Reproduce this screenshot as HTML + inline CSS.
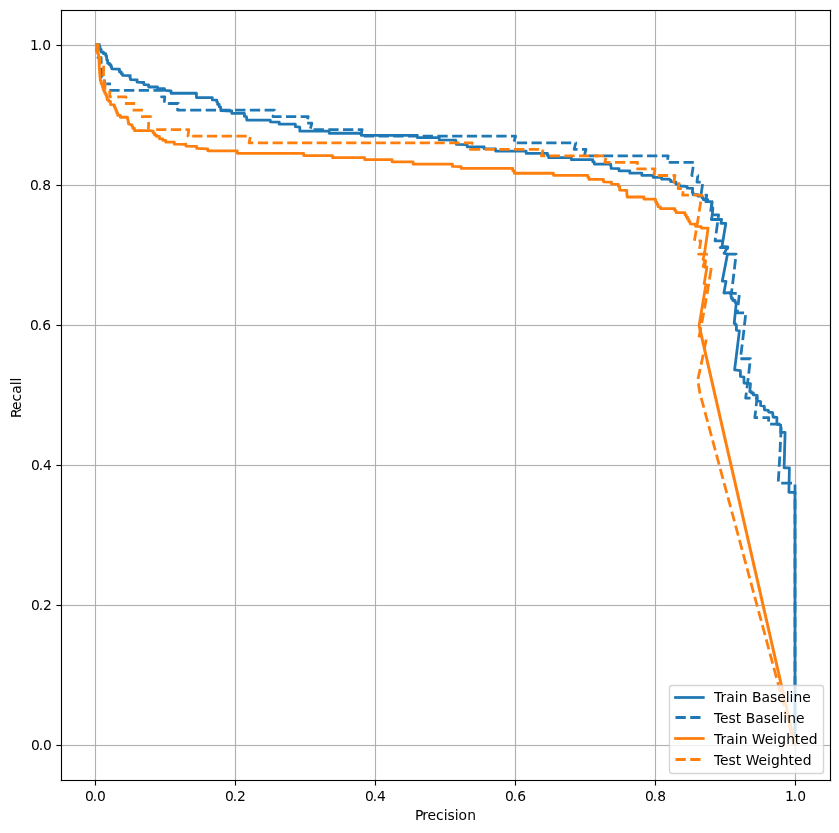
<!DOCTYPE html>
<html><head><meta charset="utf-8"><title>Precision-Recall</title>
<style>html,body{margin:0;padding:0;background:#fff}svg{display:block}text{font-family:"DejaVu Sans","Liberation Sans",sans-serif;font-size:13.8889px;fill:#000}</style></head>
<body>
<svg width="839" height="833" viewBox="0 0 839 833">
<rect width="839" height="833" fill="#fff"/>
<g fill="#b0b0b0" fill-opacity="0.06" shape-rendering="crispEdges"><rect x="94" y="10" width="3" height="770"/><rect x="61" y="744" width="769" height="3"/><rect x="234" y="10" width="3" height="770"/><rect x="61" y="604" width="769" height="3"/><rect x="374" y="10" width="3" height="770"/><rect x="61" y="464" width="769" height="3"/><rect x="514" y="10" width="3" height="770"/><rect x="61" y="324" width="769" height="3"/><rect x="654" y="10" width="3" height="770"/><rect x="61" y="184" width="769" height="3"/><rect x="794" y="10" width="3" height="770"/><rect x="61" y="44" width="769" height="3"/></g>
<g fill="#b0b0b0" shape-rendering="crispEdges"><rect x="95" y="10" width="1" height="770"/><rect x="61" y="745" width="769" height="1"/><rect x="235" y="10" width="1" height="770"/><rect x="61" y="605" width="769" height="1"/><rect x="375" y="10" width="1" height="770"/><rect x="61" y="465" width="769" height="1"/><rect x="515" y="10" width="1" height="770"/><rect x="61" y="325" width="769" height="1"/><rect x="655" y="10" width="1" height="770"/><rect x="61" y="185" width="769" height="1"/><rect x="795" y="10" width="1" height="770"/><rect x="61" y="45" width="769" height="1"/></g>
<clipPath id="ax"><rect x="61.5" y="10.5" width="769.0" height="770"/></clipPath>
<g clip-path="url(#ax)" fill="none" stroke-width="2.7778" stroke-linejoin="round">
<path d="M95.50 45.00 L99.12 44.60 L99.44 44.60 L99.44 47.00 L100.06 47.00 L100.06 49.41 L100.37 49.41 L101.19 49.41 L101.19 52.09 L102.00 52.09 L103.45 52.09 L103.45 53.73 L104.89 53.73 L105.70 53.73 L105.70 55.65 L106.52 55.65 L106.81 60.16 L107.62 60.16 L107.62 63.33 L108.44 63.33 L109.54 63.33 L109.54 64.96 L110.65 64.96 L111.01 64.96 L111.01 66.88 L111.73 66.88 L111.73 68.81 L112.09 68.81 L118.33 69.09 L119.44 69.09 L119.44 71.97 L120.54 71.97 L121.19 71.97 L121.19 73.66 L122.48 73.66 L122.48 75.34 L123.13 75.34 L130.34 75.53 L129.69 75.96 L129.93 75.96 L129.93 77.79 L130.41 77.79 L130.41 79.61 L130.65 79.61 L136.41 79.80 L137.13 79.80 L137.13 82.20 L137.85 82.20 L143.13 82.49 L143.85 82.49 L143.85 84.60 L144.57 84.60 L147.94 84.89 L148.66 84.89 L148.66 87.00 L149.38 87.00 L157.06 87.00 L157.54 87.00 L157.54 88.45 L158.02 88.45 L163.78 88.64 L164.50 88.64 L164.50 90.37 L165.22 90.37 L170.50 90.85 L170.98 90.85 L170.98 93.25 L171.46 93.25 L190.00 93.25 L196.40 93.25 L196.40 97.57 L211.41 97.57 L212.31 97.57 L212.31 99.97 L213.21 99.97 L216.45 100.21 L216.84 100.21 L216.84 102.31 L217.62 102.31 L217.62 104.41 L218.01 104.41 L219.21 104.41 L219.21 106.81 L220.41 106.81 L220.56 106.81 L220.56 108.73 L220.86 108.73 L220.86 110.65 L221.01 110.65 L231.22 111.01 L231.82 111.01 L231.82 113.42 L232.42 113.42 L243.82 113.42 L244.42 113.42 L244.42 116.42 L245.02 116.42 L246.46 116.66 L246.82 120.02 L270.23 120.02 L270.47 121.82 L278.64 122.06 L279.24 122.06 L279.24 124.22 L279.84 124.22 L285.00 124.22 L295.01 124.02 L295.31 124.02 L295.31 126.66 L295.61 126.66 L299.81 127.02 L299.81 131.22 L328.62 131.22 L329.22 131.22 L329.22 133.26 L329.82 133.26 L359.83 133.26 L361.33 133.26 L361.33 135.42 L362.83 135.42 L380.00 135.42 L417.02 135.42 L417.32 135.42 L417.32 137.58 L417.62 137.58 L438.63 137.58 L439.23 137.58 L439.23 139.98 L439.83 139.98 L455.43 140.22 L455.73 140.22 L455.73 142.32 L456.33 142.32 L456.33 144.42 L456.63 144.42 L466.24 144.66 L467.14 144.66 L467.14 146.82 L468.04 146.82 L475.00 146.82 L483.81 146.82 L484.11 146.82 L484.11 148.63 L484.41 148.63 L495.21 148.87 L495.51 148.87 L495.51 151.03 L495.81 151.03 L525.82 151.03 L526.12 151.03 L526.12 153.43 L526.42 153.43 L546.83 153.43 L547.43 153.43 L547.43 155.53 L548.63 155.53 L548.63 157.63 L549.23 157.63 L570.00 157.63 L571.00 157.86 L571.30 157.86 L571.30 159.66 L571.60 159.66 L592.01 159.66 L592.76 159.66 L592.76 161.82 L594.26 161.82 L594.26 163.99 L595.01 163.99 L610.62 164.23 L610.77 164.23 L610.77 166.33 L611.07 166.33 L611.07 168.43 L611.22 168.43 L618.42 168.67 L619.02 168.67 L619.02 170.83 L619.62 170.83 L629.23 170.83 L629.83 170.83 L629.83 173.23 L630.43 173.23 L641.23 173.23 L641.83 173.23 L641.83 175.39 L642.43 175.39 L652.64 175.39 L653.24 175.39 L653.24 177.43 L653.84 177.43 L661.04 177.43 L661.62 177.43 L661.62 179.22 L662.20 179.22 L669.41 179.22 L670.00 180.25 L670.72 180.25 L670.72 181.69 L671.44 181.69 L675.40 182.05 L675.94 182.05 L675.94 184.21 L676.48 184.21 L679.36 185.29 L680.80 186.01 L686.57 186.37 L687.11 186.37 L687.11 188.18 L687.65 188.18 L692.69 188.32 L692.33 192.50 L693.05 192.50 L693.05 194.66 L693.77 194.66 L697.73 194.66 L697.73 196.10 L701.69 196.10 L702.23 196.10 L702.23 197.90 L703.31 197.90 L703.31 199.70 L703.85 199.70 L707.45 199.70 L707.82 199.70 L707.82 201.50 L708.18 201.50 L712.00 201.80 L711.70 207.80 L712.90 207.80 L712.30 214.40 L711.40 219.50 L721.60 219.50 L721.00 223.40 L725.80 223.40 L722.00 246.40 L727.80 247.00 L724.00 253.40 L727.50 254.00 L722.30 281.10 L726.00 281.40 L723.90 293.00 L730.40 292.60 L730.60 292.60 L730.60 294.53 L731.00 294.53 L731.00 296.47 L731.40 296.47 L731.40 298.40 L731.60 298.40 L732.77 298.40 L732.77 300.50 L735.12 300.50 L735.12 302.60 L736.30 302.60 L734.20 323.40 L735.30 323.40 L735.30 324.80 L736.40 324.80 L736.40 330.20 L739.40 330.80 L734.60 369.80 L740.40 370.70 L740.40 376.50 L744.00 377.20 L744.00 383.00 L750.50 383.70 L749.80 391.60 L751.35 391.60 L751.35 393.00 L752.90 393.00 L753.35 393.00 L753.35 394.90 L753.80 394.90 L757.20 395.40 L757.20 400.70 L760.60 401.60 L760.60 405.50 L764.40 406.40 L764.40 409.80 L768.30 410.30 L768.70 412.20 L772.60 412.70 L773.10 417.00 L776.90 417.50 L776.90 424.20 L780.70 425.10 L780.70 432.40 L785.10 432.40 L784.10 467.80 L789.40 467.80 L788.90 492.30 L795.00 492.30 L795.00 745.00" stroke="#1f77b4"/>
<path d="M95.50 45.00 L97.00 44.60 L96.99 51.15 L98.00 51.15 L97.98 57.69 L101.20 57.69 L101.15 64.23 L101.60 64.23 L101.54 70.78 L102.00 70.78 L101.94 77.33 L104.50 77.33 L104.41 83.87 L106.40 83.87" stroke="#1f77b4" stroke-dasharray="10.28 4.44" stroke-dashoffset="0.00"/>
<path d="M106.40 83.87 L111.00 83.87 L111.00 83.87" stroke="#1f77b4" stroke-dasharray="10.28 4.44" stroke-dashoffset="0.00"/>
<path d="M109.30 90.41 L162.80 90.41 L161.60 96.96 L164.80 96.96 L164.17 103.50 L168.10 103.50" stroke="#1f77b4" stroke-dasharray="10.28 4.44" stroke-dashoffset="0.00"/>
<path d="M168.10 103.50 L178.30 103.50 L177.55 110.05 L191.00 110.05" stroke="#1f77b4" stroke-dasharray="10.28 4.44" stroke-dashoffset="0.00"/>
<path d="M191.00 110.05 L274.40 110.05 L273.02 116.59 L308.20 116.59 L306.65 123.14 L311.80 123.14 L310.22 129.69 L313.60 129.69" stroke="#1f77b4" stroke-dasharray="10.28 4.44" stroke-dashoffset="0.00"/>
<path d="M313.60 129.69 L362.20 129.69 L360.44 136.23 L363.80 136.23" stroke="#1f77b4" stroke-dasharray="10.28 4.44" stroke-dashoffset="0.00"/>
<path d="M363.80 136.23 L515.60 136.23 L513.78 142.78 L516.80 142.78" stroke="#1f77b4" stroke-dasharray="10.28 4.44" stroke-dashoffset="0.00"/>
<path d="M516.80 142.78 L575.80 142.78 L574.15 149.32 L586.00 149.32 L584.37 155.87 L602.90 155.87" stroke="#1f77b4" stroke-dasharray="10.28 4.44" stroke-dashoffset="0.00"/>
<path d="M602.90 155.87 L668.20 155.87 L667.03 162.41 L668.80 162.41" stroke="#1f77b4" stroke-dasharray="10.28 4.44" stroke-dashoffset="0.00"/>
<path d="M668.80 162.41 L693.80 162.41 L693.13 166.86" stroke="#1f77b4" stroke-dasharray="10.28 4.44" stroke-dashoffset="0.00"/>
<path d="M693.13 166.86 L692.81 168.96 L691.81 175.50 L697.90 175.50 L697.88 175.61" stroke="#1f77b4" stroke-dasharray="10.28 4.44" stroke-dashoffset="0.00"/>
<path d="M697.88 175.61 L696.92 182.04 L702.90 182.04 L702.59 184.17" stroke="#1f77b4" stroke-dasharray="10.28 4.44" stroke-dashoffset="0.00"/>
<path d="M702.59 184.17 L701.96 188.59 L700.99 195.13 L706.70 195.13 L705.77 201.68 L712.00 201.68 L711.10 208.22 L710.19 214.77 L718.60 214.77 L717.75 221.31 L717.49 223.19" stroke="#1f77b4" stroke-dasharray="10.28 4.44" stroke-dashoffset="0.00"/>
<path d="M717.49 223.19 L716.87 227.86 L715.98 234.41 L715.49 237.91" stroke="#1f77b4" stroke-dasharray="10.28 4.44" stroke-dashoffset="0.00"/>
<path d="M715.49 237.91 L715.06 240.95 L721.00 240.95 L720.13 247.50 L727.50 247.50 L726.68 254.04 L736.10 254.04 L735.53 259.16" stroke="#1f77b4" stroke-dasharray="10.28 4.44" stroke-dashoffset="0.00"/>
<path d="M735.53 259.16 L735.37 260.58 L734.61 267.13 L733.84 273.68 L733.05 280.22 L732.24 286.76 L731.41 293.31 L739.50 293.31 L738.74 299.86 L737.97 306.40 L737.17 312.94 L745.80 312.94 L745.55 315.22" stroke="#1f77b4" stroke-dasharray="10.28 4.44" stroke-dashoffset="0.00"/>
<path d="M745.55 315.22 L745.09 319.49 L744.36 326.04 L743.61 332.58 L742.83 339.12 L742.04 345.67 L741.22 352.22 L740.37 358.76" stroke="#1f77b4" stroke-dasharray="10.28 4.44" stroke-dashoffset="0.00"/>
<path d="M740.37 358.76 L740.37 358.76 L750.40 358.76 L749.67 365.31 L748.92 371.85 L748.15 378.40 L747.35 384.94 L746.52 391.49 L745.66 398.03 L757.00 398.03 L756.30 404.58 L755.58 411.12 L754.82 417.67 L768.80 417.67 L768.28 424.21 L781.30 424.21 L781.17 427.12" stroke="#1f77b4" stroke-dasharray="10.28 4.44" stroke-dashoffset="0.00"/>
<path d="M781.17 427.12 L781.01 430.75 L780.71 437.30 L780.39 443.85 L780.07 450.39 L779.72 456.94 L779.36 463.48 L778.99 470.03 L778.60 476.57 L778.18 483.12 L781.70 483.12" stroke="#1f77b4" stroke-dasharray="10.28 4.44" stroke-dashoffset="0.00"/>
<path d="M781.70 483.12 L795.00 483.12 L795.00 745.00" stroke="#1f77b4" stroke-dasharray="10.28 4.44" stroke-dashoffset="0.00"/>
<path d="M95.30 45.00 L96.50 45.00 L96.70 51.30 L97.55 51.30 L97.55 53.50 L98.40 53.50 L98.90 59.00 L99.20 66.70 L99.29 66.70 L99.29 68.85 L99.46 68.85 L99.46 71.00 L99.64 71.00 L99.64 73.15 L99.81 73.15 L99.81 75.30 L99.90 75.30 L100.30 80.60 L101.05 80.60 L101.05 83.50 L101.80 83.50 L102.05 83.50 L102.05 85.40 L102.55 85.40 L102.55 87.30 L103.05 87.30 L103.05 89.20 L103.30 89.20 L103.83 89.20 L103.83 91.30 L104.90 91.30 L104.90 93.40 L105.97 93.40 L105.97 95.50 L106.50 95.50 L106.75 95.50 L106.75 97.65 L107.25 97.65 L107.25 99.80 L107.50 99.80 L108.65 99.80 L108.65 101.30 L109.80 101.30 L110.50 101.30 L110.50 104.60 L111.20 104.60 L113.84 104.77 L114.24 104.77 L114.24 106.69 L115.04 106.69 L115.04 108.61 L115.84 108.61 L115.84 110.53 L116.24 110.53 L116.72 110.53 L116.72 112.94 L117.68 112.94 L117.68 115.34 L118.16 115.34 L120.32 115.34 L120.32 117.26 L122.48 117.26 L127.29 117.26 L127.53 117.26 L127.53 119.50 L128.01 119.50 L128.01 121.74 L128.49 121.74 L128.49 123.98 L128.73 123.98 L131.61 124.94 L131.97 124.94 L131.97 126.62 L132.69 126.62 L132.69 128.30 L133.05 128.30 L134.49 128.30 L134.49 130.70 L135.93 130.70 L150.34 130.70 L152.74 131.18 L153.34 131.18 L153.34 133.10 L154.54 133.10 L154.54 135.02 L155.14 135.02 L156.58 135.02 L156.58 136.46 L158.02 136.46 L159.46 136.46 L159.46 138.87 L160.90 138.87 L162.82 138.87 L162.82 140.31 L164.74 140.31 L165.70 140.31 L165.70 142.23 L166.66 142.23 L173.39 142.23 L174.35 142.23 L174.35 144.15 L175.31 144.15 L184.91 144.34 L185.00 144.03 L185.90 144.03 L185.90 146.07 L186.80 146.07 L196.40 146.43 L196.70 146.43 L196.70 148.47 L197.00 148.47 L207.21 148.83 L207.81 148.83 L207.81 150.87 L208.41 150.87 L236.62 150.87 L237.22 150.87 L237.22 153.27 L237.82 153.27 L285.00 153.27 L303.41 153.43 L303.71 153.43 L303.71 155.59 L304.01 155.59 L332.22 155.59 L332.52 155.59 L332.52 157.63 L332.82 157.63 L364.03 157.63 L364.63 157.63 L364.63 159.67 L365.23 159.67 L380.00 159.67 L391.81 159.67 L392.11 159.67 L392.11 161.83 L392.41 161.83 L412.82 161.83 L413.12 161.83 L413.12 164.23 L413.42 164.23 L451.83 164.23 L452.43 164.23 L452.43 166.39 L453.03 166.39 L460.83 166.63 L461.13 166.63 L461.13 168.43 L461.43 168.43 L475.00 168.43 L512.02 168.43 L512.77 168.43 L512.77 170.83 L514.27 170.83 L514.27 173.24 L515.02 173.24 L552.83 173.24 L553.43 173.24 L553.43 175.28 L554.03 175.28 L570.00 175.28 L587.21 175.39 L587.81 175.39 L587.81 177.43 L589.01 177.43 L589.01 179.47 L589.61 179.47 L602.82 179.47 L603.42 179.47 L603.42 181.87 L604.02 181.87 L610.62 182.11 L611.52 182.11 L611.52 184.03 L612.42 184.03 L617.22 184.27 L618.42 184.27 L618.42 186.43 L619.62 186.43 L619.62 190.04 L626.82 190.28 L626.82 194.84 L627.12 194.84 L627.12 197.00 L627.42 197.00 L643.03 197.00 L643.93 197.00 L643.93 199.04 L644.83 199.04 L655.04 199.04 L655.00 199.50 L655.60 199.50 L655.60 201.93 L656.80 201.93 L656.80 204.37 L658.00 204.37 L658.00 206.80 L658.60 206.80 L660.40 206.80 L660.40 208.60 L662.20 208.60 L674.20 208.60 L674.80 208.60 L674.80 210.60 L676.00 210.60 L676.00 212.60 L676.60 212.60 L684.30 212.60 L684.95 212.60 L684.95 214.84 L686.25 214.84 L686.25 217.08 L687.55 217.08 L687.55 219.32 L688.85 219.32 L688.85 221.56 L690.15 221.56 L690.15 223.80 L690.80 223.80 L694.40 224.10 L695.50 224.10 L695.50 226.30 L696.60 226.30 L700.90 226.70 L701.25 226.70 L701.25 228.10 L701.60 228.10 L708.10 228.10 L705.00 250.00 L703.10 259.60 L705.00 260.60 L703.10 266.30 L706.90 267.30 L704.20 283.60 L705.90 284.60 L699.10 325.60 L699.35 325.60 L699.35 327.80 L699.85 327.80 L699.85 329.99 L700.36 329.99 L700.36 332.19 L700.86 332.19 L700.86 334.38 L701.36 334.38 L701.36 336.58 L701.86 336.58 L701.86 338.77 L702.36 338.77 L702.36 340.97 L702.87 340.97 L702.87 343.17 L703.37 343.17 L703.37 345.36 L703.87 345.36 L703.87 347.56 L704.37 347.56 L704.37 349.75 L704.87 349.75 L704.87 351.95 L705.38 351.95 L705.38 354.15 L705.88 354.15 L705.88 356.34 L706.38 356.34 L706.38 358.54 L706.88 358.54 L706.88 360.73 L707.38 360.73 L707.38 362.93 L707.89 362.93 L707.89 365.12 L708.39 365.12 L708.39 367.32 L708.89 367.32 L708.89 369.52 L709.39 369.52 L709.39 371.71 L709.90 371.71 L709.90 373.91 L710.40 373.91 L710.40 376.10 L710.90 376.10 L710.90 378.30 L711.40 378.30 L711.40 380.50 L711.90 380.50 L711.90 382.69 L712.41 382.69 L712.41 384.89 L712.91 384.89 L712.91 387.08 L713.41 387.08 L713.41 389.28 L713.91 389.28 L713.91 391.47 L714.41 391.47 L714.41 393.67 L714.92 393.67 L714.92 395.87 L715.42 395.87 L715.42 398.06 L715.92 398.06 L715.92 400.26 L716.42 400.26 L716.42 402.45 L716.92 402.45 L716.92 404.65 L717.43 404.65 L717.43 406.85 L717.93 406.85 L717.93 409.04 L718.43 409.04 L718.43 411.24 L718.93 411.24 L718.93 413.43 L719.43 413.43 L719.43 415.63 L719.94 415.63 L719.94 417.82 L720.44 417.82 L720.44 420.02 L720.94 420.02 L720.94 422.22 L721.44 422.22 L721.44 424.41 L721.95 424.41 L721.95 426.61 L722.45 426.61 L722.45 428.80 L722.95 428.80 L722.95 431.00 L723.45 431.00 L723.45 433.19 L723.95 433.19 L723.95 435.39 L724.46 435.39 L724.46 437.59 L724.96 437.59 L724.96 439.78 L725.46 439.78 L725.46 441.98 L725.96 441.98 L725.96 444.17 L726.46 444.17 L726.46 446.37 L726.97 446.37 L726.97 448.57 L727.47 448.57 L727.47 450.76 L727.97 450.76 L727.97 452.96 L728.47 452.96 L728.47 455.15 L728.97 455.15 L728.97 457.35 L729.48 457.35 L729.48 459.54 L729.98 459.54 L729.98 461.74 L730.48 461.74 L730.48 463.94 L730.98 463.94 L730.98 466.13 L731.49 466.13 L731.49 468.33 L731.99 468.33 L731.99 470.52 L732.49 470.52 L732.49 472.72 L732.99 472.72 L732.99 474.92 L733.49 474.92 L733.49 477.11 L734.00 477.11 L734.00 479.31 L734.50 479.31 L734.50 481.50 L735.00 481.50 L735.00 483.70 L735.50 483.70 L735.50 485.89 L736.00 485.89 L736.00 488.09 L736.51 488.09 L736.51 490.29 L737.01 490.29 L737.01 492.48 L737.51 492.48 L737.51 494.68 L738.01 494.68 L738.01 496.87 L738.51 496.87 L738.51 499.07 L739.02 499.07 L739.02 501.26 L739.52 501.26 L739.52 503.46 L740.02 503.46 L740.02 505.66 L740.52 505.66 L740.52 507.85 L741.02 507.85 L741.02 510.05 L741.53 510.05 L741.53 512.24 L742.03 512.24 L742.03 514.44 L742.53 514.44 L742.53 516.64 L743.03 516.64 L743.03 518.83 L743.54 518.83 L743.54 521.03 L744.04 521.03 L744.04 523.22 L744.54 523.22 L744.54 525.42 L745.04 525.42 L745.04 527.61 L745.54 527.61 L745.54 529.81 L746.05 529.81 L746.05 532.01 L746.55 532.01 L746.55 534.20 L747.05 534.20 L747.05 536.40 L747.55 536.40 L747.55 538.59 L748.05 538.59 L748.05 540.79 L748.56 540.79 L748.56 542.99 L749.06 542.99 L749.06 545.18 L749.56 545.18 L749.56 547.38 L750.06 547.38 L750.06 549.57 L750.56 549.57 L750.56 551.77 L751.07 551.77 L751.07 553.96 L751.57 553.96 L751.57 556.16 L752.07 556.16 L752.07 558.36 L752.57 558.36 L752.57 560.55 L753.08 560.55 L753.08 562.75 L753.58 562.75 L753.58 564.94 L754.08 564.94 L754.08 567.14 L754.58 567.14 L754.58 569.34 L755.08 569.34 L755.08 571.53 L755.59 571.53 L755.59 573.73 L756.09 573.73 L756.09 575.92 L756.59 575.92 L756.59 578.12 L757.09 578.12 L757.09 580.31 L757.59 580.31 L757.59 582.51 L758.10 582.51 L758.10 584.71 L758.60 584.71 L758.60 586.90 L759.10 586.90 L759.10 589.10 L759.60 589.10 L759.60 591.29 L760.10 591.29 L760.10 593.49 L760.61 593.49 L760.61 595.68 L761.11 595.68 L761.11 597.88 L761.61 597.88 L761.61 600.08 L762.11 600.08 L762.11 602.27 L762.61 602.27 L762.61 604.47 L763.12 604.47 L763.12 606.66 L763.62 606.66 L763.62 608.86 L764.12 608.86 L764.12 611.06 L764.62 611.06 L764.62 613.25 L765.13 613.25 L765.13 615.45 L765.63 615.45 L765.63 617.64 L766.13 617.64 L766.13 619.84 L766.63 619.84 L766.63 622.03 L767.13 622.03 L767.13 624.23 L767.64 624.23 L767.64 626.43 L768.14 626.43 L768.14 628.62 L768.64 628.62 L768.64 630.82 L769.14 630.82 L769.14 633.01 L769.64 633.01 L769.64 635.21 L770.15 635.21 L770.15 637.41 L770.65 637.41 L770.65 639.60 L771.15 639.60 L771.15 641.80 L771.65 641.80 L771.65 643.99 L772.15 643.99 L772.15 646.19 L772.66 646.19 L772.66 648.38 L773.16 648.38 L773.16 650.58 L773.66 650.58 L773.66 652.78 L774.16 652.78 L774.16 654.97 L774.67 654.97 L774.67 657.17 L775.17 657.17 L775.17 659.36 L775.67 659.36 L775.67 661.56 L776.17 661.56 L776.17 663.75 L776.67 663.75 L776.67 665.95 L777.18 665.95 L777.18 668.15 L777.68 668.15 L777.68 670.34 L778.18 670.34 L778.18 672.54 L778.68 672.54 L778.68 674.73 L779.18 674.73 L779.18 676.93 L779.69 676.93 L779.69 679.13 L780.19 679.13 L780.19 681.32 L780.69 681.32 L780.69 683.52 L781.19 683.52 L781.19 685.71 L781.69 685.71 L781.69 687.91 L782.20 687.91 L782.20 690.10 L782.70 690.10 L782.70 692.30 L783.20 692.30 L783.20 694.50 L783.70 694.50 L783.70 696.69 L784.20 696.69 L784.20 698.89 L784.71 698.89 L784.71 701.08 L785.21 701.08 L785.21 703.28 L785.71 703.28 L785.71 705.48 L786.21 705.48 L786.21 707.67 L786.72 707.67 L786.72 709.87 L787.22 709.87 L787.22 712.06 L787.72 712.06 L787.72 714.26 L788.22 714.26 L788.22 716.45 L788.72 716.45 L788.72 718.65 L789.23 718.65 L789.23 720.85 L789.73 720.85 L789.73 723.04 L790.23 723.04 L790.23 725.24 L790.73 725.24 L790.73 727.43 L791.23 727.43 L791.23 729.63 L791.74 729.63 L791.74 731.83 L792.24 731.83 L792.24 734.02 L792.74 734.02 L792.74 736.22 L793.24 736.22 L793.24 738.41 L793.74 738.41 L793.74 740.61 L794.25 740.61 L794.25 742.80 L794.75 742.80 L794.75 745.00 L795.00 745.00" stroke="#ff7f0e"/>
<path d="M95.50 45.00 L98.30 44.60 L98.27 51.15 L98.80 51.15 L98.77 57.69 L100.00 57.69 L99.96 64.23 L103.60 64.23 L103.52 70.78 L103.45 77.33 L104.30 77.33 L104.26 80.20" stroke="#ff7f0e" stroke-dasharray="10.28 4.44" stroke-dashoffset="0.00"/>
<path d="M104.26 80.20 L104.21 83.87 L105.00 83.87 L104.92 89.72" stroke="#ff7f0e" stroke-dasharray="10.28 4.44" stroke-dashoffset="0.00"/>
<path d="M109.80 90.41 L109.80 90.41 L109.66 96.96 L111.71 96.96" stroke="#ff7f0e" stroke-dasharray="10.28 4.44" stroke-dashoffset="0.00"/>
<path d="M117.20 96.96 L126.00 96.96 L125.75 98.42" stroke="#ff7f0e" stroke-dasharray="10.28 4.44" stroke-dashoffset="0.00"/>
<path d="M124.90 103.50 L124.90 103.50 L135.80 103.50" stroke="#ff7f0e" stroke-dasharray="10.28 4.44" stroke-dashoffset="0.00"/>
<path d="M132.60 110.05 L132.60 110.05 L143.70 110.05 L143.70 110.05" stroke="#ff7f0e" stroke-dasharray="10.28 4.44" stroke-dashoffset="0.00"/>
<path d="M141.00 116.59 L141.00 116.59 L150.60 116.59 L150.39 117.24" stroke="#ff7f0e" stroke-dasharray="10.28 4.44" stroke-dashoffset="0.00"/>
<path d="M148.74 122.38 L148.50 123.14 L148.60 123.14 L148.41 129.24" stroke="#ff7f0e" stroke-dasharray="10.28 4.44" stroke-dashoffset="0.00"/>
<path d="M156.10 129.69 L188.80 129.69 L187.94 136.23 L192.20 136.23" stroke="#ff7f0e" stroke-dasharray="10.28 4.44" stroke-dashoffset="0.00"/>
<path d="M192.20 136.23 L250.40 136.23 L249.10 142.78 L472.20 142.78 L470.30 149.32 L543.20 149.32 L541.41 155.87 L606.40 155.87 L604.85 162.41 L637.60 162.41 L636.21 168.96 L655.00 168.96 L653.71 175.50 L675.00 175.50 L673.84 182.04 L679.20 182.04 L678.06 188.59 L683.70 188.59 L682.58 195.13 L701.70 195.13 L700.72 201.68 L699.73 208.22 L698.71 214.77 L697.67 221.31 L696.60 227.86 L695.52 234.41 L694.40 240.95 L700.80 240.95 L699.72 247.50 L698.62 254.04 L706.60 254.04 L705.55 260.58 L704.80 267.13 L711.40 267.13 L711.06 269.31" stroke="#ff7f0e" stroke-dasharray="10.28 4.44" stroke-dashoffset="0.00"/>
<path d="M711.06 269.31 L710.37 273.68 L709.32 280.22 L708.24 286.76 L707.14 293.31 L706.01 299.86 L704.84 306.40 L703.65 312.94 L702.43 319.49 L701.17 326.04 L699.87 332.58 L698.55 339.12 L698.60 339.12" stroke="#ff7f0e" stroke-dasharray="10.28 4.44" stroke-dashoffset="0.00"/>
<path d="M698.60 339.12 L698.61 339.12" stroke="#ff7f0e" stroke-dasharray="10.28 4.44" stroke-dashoffset="0.00"/>
<path d="M706.25 339.40 L705.03 345.67 L704.32 349.21" stroke="#ff7f0e" stroke-dasharray="10.28 4.44" stroke-dashoffset="0.00"/>
<path d="M703.23 354.59 L702.37 358.76 L700.98 365.31 L699.55 371.85 L698.07 378.40 L697.70 380.80 L698.30 383.40 L700.00 393.50 L794.60 745.00" stroke="#ff7f0e" stroke-dasharray="10.28 4.44" stroke-dashoffset="0.00"/>
</g>
<g fill="#000" fill-opacity="0.055" shape-rendering="crispEdges"><rect x="60" y="9" width="3" height="773"/><rect x="829" y="9" width="3" height="773"/><rect x="60" y="9" width="772" height="3"/><rect x="60" y="779" width="772" height="3"/><rect x="94" y="781" width="3" height="5"/><rect x="56" y="744" width="5" height="3"/><rect x="234" y="781" width="3" height="5"/><rect x="56" y="604" width="5" height="3"/><rect x="374" y="781" width="3" height="5"/><rect x="56" y="464" width="5" height="3"/><rect x="514" y="781" width="3" height="5"/><rect x="56" y="324" width="5" height="3"/><rect x="654" y="781" width="3" height="5"/><rect x="56" y="184" width="5" height="3"/><rect x="794" y="781" width="3" height="5"/><rect x="56" y="44" width="5" height="3"/></g>
<g fill="#000" fill-opacity="0.5" shape-rendering="crispEdges"><rect x="95" y="785" width="1" height="1"/><rect x="56" y="745" width="1" height="1"/><rect x="235" y="785" width="1" height="1"/><rect x="56" y="605" width="1" height="1"/><rect x="375" y="785" width="1" height="1"/><rect x="56" y="465" width="1" height="1"/><rect x="515" y="785" width="1" height="1"/><rect x="56" y="325" width="1" height="1"/><rect x="655" y="785" width="1" height="1"/><rect x="56" y="185" width="1" height="1"/><rect x="795" y="785" width="1" height="1"/><rect x="56" y="45" width="1" height="1"/></g>
<g fill="#000" shape-rendering="crispEdges"><rect x="61" y="10" width="1" height="771"/><rect x="830" y="10" width="1" height="771"/><rect x="61" y="10" width="770" height="1"/><rect x="61" y="780" width="770" height="1"/><rect x="95" y="781" width="1" height="4"/><rect x="57" y="745" width="4" height="1"/><rect x="235" y="781" width="1" height="4"/><rect x="57" y="605" width="4" height="1"/><rect x="375" y="781" width="1" height="4"/><rect x="57" y="465" width="4" height="1"/><rect x="515" y="781" width="1" height="4"/><rect x="57" y="325" width="4" height="1"/><rect x="655" y="781" width="1" height="4"/><rect x="57" y="185" width="4" height="1"/><rect x="795" y="781" width="1" height="4"/><rect x="57" y="45" width="4" height="1"/></g>
<rect x="669.50" y="685.50" width="154.00" height="88.00" rx="2.8" ry="2.8" fill="#fff" fill-opacity="0.8" stroke="#ccc" stroke-opacity="0.8" stroke-width="1.3889"/>
<path d="M675.50 697.50 H703.28" stroke="#1f77b4" stroke-width="2.7778" stroke-linecap="square" fill="none"/>
<path d="M675.50 717.50 H703.28" stroke="#1f77b4" stroke-width="2.7778" stroke-dasharray="10.28 4.44" fill="none"/>
<path d="M675.50 738.50 H703.28" stroke="#ff7f0e" stroke-width="2.7778" stroke-linecap="square" fill="none"/>
<path d="M675.50 759.50 H703.28" stroke="#ff7f0e" stroke-width="2.7778" stroke-dasharray="10.28 4.44" fill="none"/>
<text id="xt0" x="84.96 92.67 96.90" y="800.50">0.0</text>
<text id="yt0" x="30.92 38.63 42.96" y="749.50">0.0</text>
<text id="xt1" x="224.96 232.67 236.90" y="800.50">0.2</text>
<text id="yt1" x="30.92 38.63 42.96" y="609.50">0.2</text>
<text id="xt2" x="364.96 372.67 376.90" y="800.50">0.4</text>
<text id="yt2" x="30.92 38.63 42.96" y="469.50">0.4</text>
<text id="xt3" x="504.96 512.67 517.20" y="800.50">0.6</text>
<text id="yt3" x="29.92 37.63 42.16" y="329.50">0.6</text>
<text id="xt4" x="644.96 652.67 657.20" y="800.50">0.8</text>
<text id="yt4" x="29.92 37.63 42.16" y="189.50">0.8</text>
<text id="xt5" x="784.96 792.67 797.20" y="800.50">1.0</text>
<text id="yt5" x="29.92 37.63 42.16" y="49.50">1.0</text>
<text id="xl" x="414.94 422.15 427.45 435.89 443.71 447.47 454.70 458.46 467.15" y="819.50">Precision</text>
<text id="yl" transform="translate(20.50 397.80) rotate(-90)" x="-20.30 -12.29 -3.76 3.97 12.47 16.23" y="0">Recall</text>
<text id="lg0" x="713.94 720.46 726.16 734.68 738.72 747.32 751.93 761.46 769.96 777.18 785.72 789.47 793.43 802.22" y="701.50">Train Baseline</text>
<text id="lg1" x="713.94 719.95 728.38 735.71 741.35 745.66 755.19 763.69 770.91 779.46 783.20 787.16 795.96" y="722.50">Test Baseline</text>
<text id="lg2" x="713.94 720.46 726.16 734.68 738.72 747.32 751.63 764.63 773.18 777.22 786.14 794.63 800.17 808.70" y="743.50">Train Weighted</text>
<text id="lg3" x="713.94 719.95 728.38 735.71 741.35 745.66 758.46 766.91 770.96 779.67 788.46 793.90 802.63" y="764.50">Test Weighted</text>
</svg>
</body></html>
